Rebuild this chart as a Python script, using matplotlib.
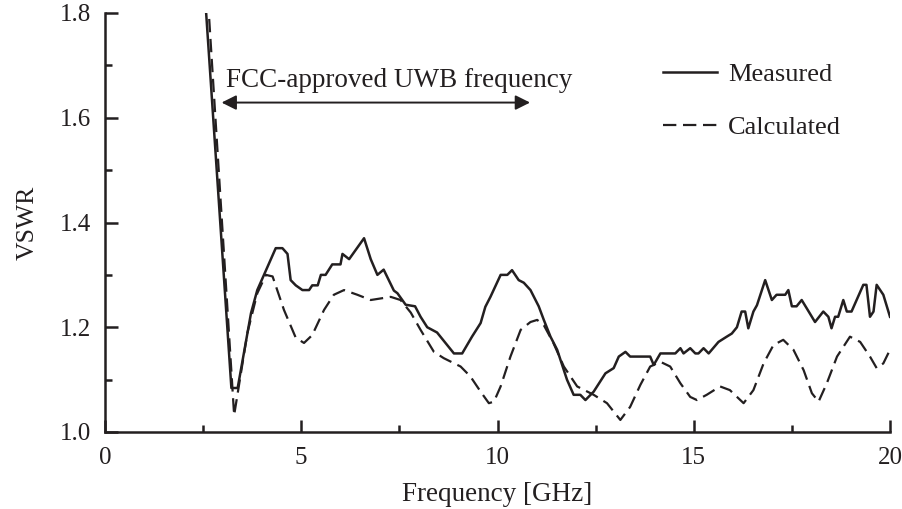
import matplotlib
matplotlib.use("Agg")
import matplotlib.pyplot as plt

# ---------------- data ----------------
meas_f = [2.55, 3.22, 3.38, 3.72, 3.88, 4.35, 4.52, 4.65, 4.73, 4.86, 5.03, 5.2, 5.28, 5.42,
          5.5, 5.62, 5.79, 6.0, 6.05, 6.22, 6.6, 6.77, 6.94, 7.1, 7.36, 7.45, 7.66, 7.9,
          8.04, 8.21, 8.46, 8.89, 9.1, 9.35, 9.57, 9.69, 9.82, 10.08, 10.25, 10.37, 10.54,
          10.67, 10.84, 11.05, 11.18, 11.35, 11.52, 11.77, 11.94, 12.11, 12.24, 12.45,
          12.75, 12.96, 13.09, 13.26, 13.38, 13.89, 13.98, 14.15, 14.53, 14.66, 14.74,
          14.91, 15.04, 15.12, 15.25, 15.38, 15.63, 15.84, 15.97, 16.1, 16.22, 16.31,
          16.39, 16.52, 16.61, 16.82, 16.99, 17.11, 17.33, 17.41, 17.5, 17.62, 17.75,
          17.88, 18.09, 18.3, 18.43, 18.51, 18.6, 18.68, 18.81, 18.9, 19.02, 19.32, 19.4,
          19.49, 19.58, 19.66, 19.83, 20.0]
meas_v = [1.83, 1.084, 1.084, 1.227, 1.271, 1.351, 1.351, 1.34, 1.29, 1.28, 1.271, 1.271,
          1.28, 1.28, 1.30, 1.30, 1.32, 1.32, 1.34, 1.33, 1.37, 1.33, 1.30, 1.31, 1.27,
          1.265, 1.243, 1.24, 1.22, 1.20, 1.19, 1.15, 1.15, 1.182, 1.208, 1.239, 1.258,
          1.30, 1.30, 1.309, 1.29, 1.285, 1.271, 1.24, 1.214, 1.182, 1.157, 1.10, 1.071,
          1.071, 1.061, 1.077, 1.112, 1.122, 1.144, 1.153, 1.144, 1.144, 1.128, 1.15,
          1.15, 1.16, 1.15, 1.16, 1.15, 1.15, 1.16, 1.15, 1.172, 1.182, 1.188, 1.20, 1.23,
          1.23, 1.198, 1.23, 1.242, 1.29, 1.252, 1.262, 1.262, 1.271, 1.24, 1.24, 1.252,
          1.236, 1.21, 1.23, 1.22, 1.198, 1.22, 1.22, 1.252, 1.23, 1.23, 1.281, 1.281,
          1.22, 1.23, 1.281, 1.262, 1.22]

calc_f = [2.62, 3.29, 3.63, 3.88, 4.1, 4.27, 4.56, 4.86, 5.07, 5.28, 5.58, 5.83, 6.09, 6.43,
          6.77, 7.28, 7.53, 7.79, 8.04, 8.38, 8.63, 9.06, 9.31, 9.57, 9.78, 9.91, 10.08,
          10.33, 10.59, 10.84, 11.01, 11.18, 11.43, 11.69, 12.03, 12.45, 12.79, 13.13,
          13.38, 13.64, 13.89, 14.15, 14.4, 14.66, 14.91, 15.08, 15.33, 15.67, 15.92,
          16.27, 16.52, 16.78, 17.03, 17.28, 17.54, 17.8, 18.01, 18.18, 18.39, 18.65,
          18.98, 19.24, 19.49, 19.66, 19.83, 20.0]
calc_v = [1.83, 1.032, 1.19, 1.265, 1.30, 1.297, 1.233, 1.18, 1.17, 1.185, 1.233, 1.262,
          1.271, 1.262, 1.252, 1.258, 1.252, 1.228, 1.195, 1.153, 1.141, 1.125, 1.106,
          1.077, 1.055, 1.058, 1.087, 1.144, 1.195, 1.21, 1.214, 1.204, 1.169, 1.125,
          1.087, 1.071, 1.055, 1.023, 1.048, 1.09, 1.125, 1.134, 1.125, 1.093, 1.067,
          1.061, 1.071, 1.087, 1.08, 1.055, 1.08, 1.131, 1.166, 1.176, 1.157, 1.118,
          1.074, 1.058, 1.093, 1.144, 1.182, 1.172, 1.144, 1.122, 1.131, 1.157]

x_ticks = [0, 5, 10, 15, 20]
y_ticks = [1.0, 1.2, 1.4, 1.6, 1.8]
band = [2.97, 10.83]  # FCC band arrow ends as drawn
band_label = "FCC-approved UWB frequency"

# ---------------- plot ----------------
plt.rcParams['font.family'] = ['Liberation Serif', 'DejaVu Serif']
ink = '#231f20'

fig = plt.figure(figsize=(9.03, 5.09), dpi=100)
ax = fig.add_axes([105/903, 1-432/509, 785/903, 419/509])

ax.plot(meas_f, meas_v, color=ink, lw=1.8, label='Measured')
ax.plot(calc_f, calc_v, color=ink, lw=1.6, linestyle=(0, (6, 3)), label='Calculated')

ax.set_xlim(0, 20)
ax.set_ylim(1.0, 1.8)
ax.set_xticks(x_ticks)
ax.set_yticks(y_ticks)
ax.set_xticks([2.5, 7.5, 12.5, 17.5], minor=True)
ax.set_yticks([1.1, 1.3, 1.5, 1.7], minor=True)
ax.set_xticklabels([str(t) for t in x_ticks])
ax.set_yticklabels([f"{t:.1f}" for t in y_ticks])

for s in ['top', 'right']:
    ax.spines[s].set_visible(False)
for s in ['left', 'bottom']:
    ax.spines[s].set_linewidth(1.8)
    ax.spines[s].set_color(ink)

ax.tick_params(which='major', direction='in', length=9, width=1.8, colors=ink,
               labelsize=18, labelcolor=ink)
ax.tick_params(which='minor', direction='in', length=5, width=1.8, colors=ink)
ax.tick_params(axis='x', which='major', pad=11)
ax.tick_params(axis='y', which='major', pad=10)

ax.set_xlabel('Frequency [GHz]', fontsize=19.5, color=ink, labelpad=9)
ax.set_ylabel('VSWR', fontsize=18.5, color=ink, labelpad=15)

ax.annotate('', xy=(band[0], 1.629), xytext=(band[1], 1.629),
            arrowprops=dict(arrowstyle='<|-|>', color=ink, lw=1.4,
                            mutation_scale=22, shrinkA=0, shrinkB=0))
ax.text(7.49, 1.659, band_label, ha='center', va='baseline',
        fontsize=19.5, color=ink)

leg = ax.legend(loc='upper left', bbox_to_anchor=(0.711, 0.881), frameon=False,
                fontsize=19, handlelength=2.05, handletextpad=0.4, labelspacing=1.1,
                borderpad=0, borderaxespad=0)
for t in leg.get_texts():
    t.set_color(ink)

fig.savefig('out.png', dpi=100)
